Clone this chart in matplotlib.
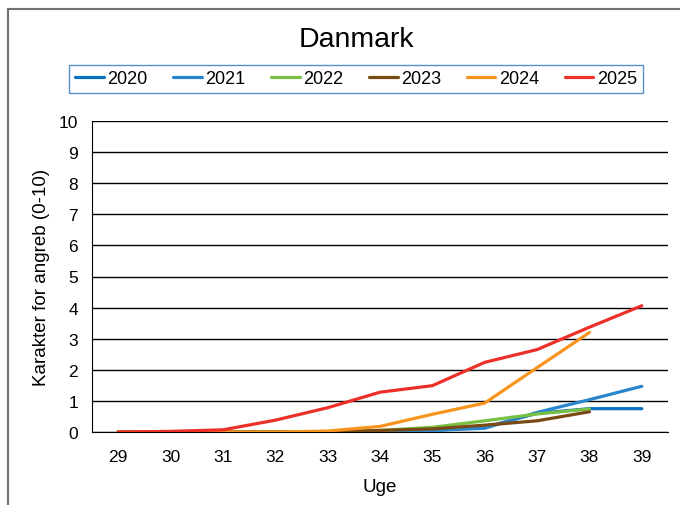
import matplotlib
matplotlib.use('Agg')
import matplotlib.pyplot as plt
from matplotlib.patches import Rectangle

plt.rcParams['font.family'] = ['Liberation Sans', 'DejaVu Sans']

uger = [29, 30, 31, 32, 33, 34, 35, 36, 37, 38, 39]

# karakter for angreb pr. uge
v2020 = [0, 0, 0, 0, 0, 0.02, 0.05, 0.15, 0.6, 0.75, 0.75]
v2021 = [0, 0, 0, 0, 0, 0.02, 0.05, 0.12, 0.63, 1.04, 1.47]
v2022 = [0, 0, 0, 0, 0, 0.05, 0.15, 0.36, 0.58, 0.74, None]
v2023 = [0, 0, 0, 0, 0, 0.05, 0.1, 0.22, 0.36, 0.65, None]
v2024 = [0, 0, 0, 0, 0.03, 0.18, 0.57, 0.93, 2.07, 3.2, None]
v2025 = [0, 0.02, 0.07, 0.38, 0.78, 1.28, 1.49, 2.24, 2.65, 3.37, 4.06]

serier = [('2020', v2020, '#0a70be'),
          ('2021', v2021, '#2a86cc'),
          ('2022', v2022, '#77c043'),
          ('2023', v2023, '#7a4a14'),
          ('2024', v2024, '#f7941d'),
          ('2025', v2025, '#ec2f28')]

fig = plt.figure(figsize=(6.8, 5.06), dpi=100)
ax = fig.add_axes([92 / 680, 73 / 506, 576 / 680, 311 / 506])

for navn, vals, farve in serier:
    xs = [u for u, v in zip(uger, vals) if v is not None]
    ys = [v for v in vals if v is not None]
    ax.plot(xs, ys, color=farve, lw=2.3, label=navn, solid_capstyle='round', zorder=3)

ax.set_xlim(28.5, 39.5)
ax.set_ylim(0, 10)
ax.set_xticks(uger)
ax.set_yticks(range(0, 11))
ax.tick_params(length=0, labelsize=12.5)
ax.tick_params(axis='x', pad=12)
ax.tick_params(axis='y', pad=10)
ax.grid(axis='y', color='black', lw=1)
ax.set_axisbelow(True)
for s in ['top', 'right']:
    ax.spines[s].set_visible(False)
ax.spines['left'].set_color('black')
ax.spines['bottom'].set_color('black')
ax.set_xlabel('Uge', fontsize=13.5, labelpad=10)
ax.set_ylabel('Karakter for angreb (0-10)', fontsize=13.5, labelpad=6)

fig.text(356 / 680, 1 - 40 / 506, 'Danmark', ha='center', va='center', fontsize=20.5)

leg = fig.legend(loc='center', bbox_to_anchor=(356 / 680, 1 - 80 / 506), ncol=6,
                 fontsize=13, frameon=True, fancybox=False, handlelength=1.6,
                 handletextpad=0.2, columnspacing=1.4, borderpad=0.3)
leg.get_frame().set_edgecolor('#2e75b6')
leg.get_frame().set_linewidth(1)

fig.patches.append(Rectangle((8 / 680, -0.1), 1.2, 1 - 10 / 506 + 0.1,
                             transform=fig.transFigure, fill=False,
                             edgecolor='#767171', lw=1.5))

fig.savefig('out.png', dpi=100)
